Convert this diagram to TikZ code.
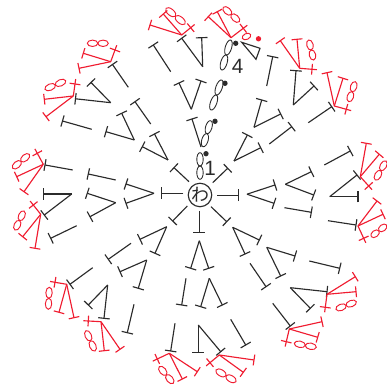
\documentclass[tikz,border=0pt]{standalone}
\usepackage{fontspec}
\setmainfont{Liberation Sans}
\newfontfamily\jpfont{Noto Sans CJK JP}
\definecolor{inkk}{HTML}{2B2B2B}
\definecolor{inkr}{HTML}{F01C30}
\tikzset{
  blkline/.style={draw=inkk,line width=.85pt},
  redline/.style={draw=inkr,line width=.85pt},
  blkloop/.style={draw=inkk,line width=.65pt},
  redloop/.style={draw=inkr,line width=.7pt},
  numlabel/.style={text=inkk,font=\fontsize{15.5}{17}\selectfont,inner sep=0pt},
}
% a stem from (x1,y1) to (x2,y2), crossbar at its end; y is measured downward in pixels
\newcommand\stitch[6]{%
  \pgfmathsetmacro\sdx{#4-#2}%
  \pgfmathsetmacro\sdy{#5-#3}%
  \pgfmathsetmacro\slen{veclen(\sdx,\sdy)}%
  \pgfmathsetmacro\spx{-\sdy/\slen*#6}%
  \pgfmathsetmacro\spy{\sdx/\slen*#6}%
  \draw[#1] (#2,385-#3) -- (#4,385-#5);%
  \draw[#1] (#4+\spx,385-#5-\spy) -- (#4-\spx,385-#5+\spy);%
}
\newcommand\blkT[4]{\stitch{blkline}{#1}{#2}{#3}{#4}{5.8}}
\newcommand\redT[4]{\stitch{redline}{#1}{#2}{#3}{#4}{5.4}}
\newcommand\blkV[6]{\blkT{#1}{#2}{#3}{#4}\blkT{#1}{#2}{#5}{#6}}
\newcommand\redV[6]{\redT{#1}{#2}{#3}{#4}\redT{#1}{#2}{#5}{#6}}
% slip stitch: stem from the apex through a crossing bar
\newcommand\redP[4]{%
  \pgfmathsetmacro\sdx{#3-#1}%
  \pgfmathsetmacro\sdy{#4-#2}%
  \pgfmathsetmacro\slen{veclen(\sdx,\sdy)}%
  \pgfmathsetmacro\spx{-\sdy/\slen*5.4}%
  \pgfmathsetmacro\spy{\sdx/\slen*5.4}%
  \pgfmathsetmacro\sex{#3+\sdx/\slen*5}%
  \pgfmathsetmacro\sey{#4+\sdy/\slen*5}%
  \draw[redline] (#1,385-#2) -- (\sex,385-\sey);%
  \draw[redline] (#3+\spx,385-#4-\spy) -- (#3-\spx,385-#4+\spy);%
}
% chain of two loops from (x1,y1) to (x2,y2)
\newcommand\eight[5]{%
  \pgfmathsetmacro\edx{#4-#2}%
  \pgfmathsetmacro\edy{#3-#5}%
  \pgfmathsetmacro\elen{veclen(\edx,\edy)}%
  \pgfmathsetmacro\eang{atan2(\edy,\edx)}%
  \pgfmathsetmacro\erad{\elen/4*.75}%
  \draw[#1,rotate around={\eang:(#2+.25*\edx,385-#3+.25*\edy)}] (#2+.25*\edx,385-#3+.25*\edy) circle [x radius=\erad pt,y radius=2.4pt];%
  \draw[#1,rotate around={\eang:(#2+.75*\edx,385-#3+.75*\edy)}] (#2+.75*\edx,385-#3+.75*\edy) circle [x radius=\erad pt,y radius=2.4pt];%
}
\newcommand\blkE[4]{\eight{blkloop}{#1}{#2}{#3}{#4}}
\newcommand\redE[4]{\eight{redloop}{#1}{#2}{#3}{#4}}
\begin{document}
\begin{tikzpicture}[x=.75pt,y=.75pt]
\useasboundingbox[fill=white] (0,0) rectangle (387,385);
% centre ring
\node[circle,draw=inkk,line width=.85pt,minimum size=17.6pt,inner sep=0pt,text=inkk,font=\jpfont\fontsize{13.5}{14}\selectfont] (ring) at (200,190) {わ};
% round 1
\blkT{189}{181.7}{174}{167.7}
\blkT{212.7}{182.7}{227.7}{168.3}
\blkT{183.3}{193.3}{161.7}{193.3}
\blkT{217.3}{195.3}{238.7}{195.3}
\blkT{187.3}{206}{172.7}{221}
\blkT{199.3}{211}{199.3}{232.7}
\blkT{211}{206.7}{226.7}{221.7}
\blkE{200}{179.3}{200}{152.7}
\fill[inkk] (206,385-153.7) circle (2pt);
\node[numlabel] (n1) at (210,385-168) {1};
% round 2
\blkV{168}{160}{154.5}{134}{142.3}{146.7}
\blkV{154}{193.3}{126}{184}{126}{203.3}
\blkV{166.7}{226.7}{140}{239.3}{155}{253.3}
\blkV{199.3}{240.7}{190.7}{268.3}{208.7}{268.3}
\blkV{232.7}{227.3}{259.3}{240}{245}{254}
\blkV{247}{194.2}{275}{185}{274}{203.3}
\blkV{234}{161}{247.3}{135}{260.7}{147.7}
\blkT{201}{147}{192}{119}
\blkE{203}{146.7}{210.7}{120.7}
\fill[inkk] (215,385-121.3) circle (2pt);
% round 3
\blkV{191.3}{109.3}{179}{83}{201}{81}
\blkE{211}{110}{221.7}{80}
\fill[inkk] (225,385-83.3) circle (2pt);
\blkT{150.7}{124}{135}{101.7}
\blkV{134.3}{140}{121.7}{113.3}{106}{131.7}
\blkT{91.7}{129.3}{62.5}{121}
\blkT{115.7}{180}{88.3}{174}
\blkV{115.7}{202.7}{87.3}{193.3}{90}{216.7}
\blkT{131}{243.3}{108.3}{259.3}
\blkV{146.7}{260}{120}{271.7}{138.3}{288.3}
\blkT{186}{278.3}{181.7}{305}
\blkV{209.3}{278.3}{200.7}{306.7}{222.3}{305}
\blkT{250}{263.3}{266}{286.7}
\blkV{266.7}{247.3}{295}{256}{280.7}{276}
\blkT{284.5}{207.7}{311.3}{212.3}
\blkV{285.3}{184.3}{311.3}{171.7}{313.7}{195}
\blkT{269.3}{144}{291.7}{126.7}
\blkV{254}{127.3}{261.7}{100}{280.7}{114}
% round 4
\blkT{128.3}{87.3}{112.5}{64.5}
\blkV{110.7}{102.7}{91}{82.5}{75.5}{98.8}
\blkT{72.7}{170}{45}{165}
\blkV{71.7}{194}{43.3}{194}{44.3}{215}
\blkT{76.7}{225.7}{50.7}{238.3}
\blkT{92.7}{267.7}{70}{284.3}
\blkV{107.7}{285}{88.3}{305}{104}{318.3}
\blkT{134}{304.3}{127.3}{332.7}
\blkT{175}{323.3}{170.7}{351}
\blkV{198.3}{325}{198.3}{352.7}{220.7}{351.7}
\blkT{230.7}{319.3}{245.7}{345}
\blkT{272.7}{303.3}{290.3}{326}
\blkV{290.3}{287.7}{327}{291.7}{310.3}{308.3}
\blkT{309.3}{261}{339.7}{268.3}
\blkT{328}{220.7}{356}{225}
\blkV{329.7}{196.7}{357}{175}{358}{196.7}
\blkT{324.3}{165}{350.3}{151}
\blkT{308.3}{122.7}{331.7}{106.7}
\blkV{293.3}{105}{296}{70.7}{314}{86}
\blkT{266.7}{86}{272.7}{56.7}
\blkV{202.7}{66.7}{181.7}{38.3}{201.7}{37.7}
\blkT{170.7}{71.7}{153.3}{45}
\blkE{221.7}{70}{230.7}{40}
\fill[inkk] (235.7,385-43.3) circle (2pt);
\node[numlabel] (n4) at (237.7,385-66.7) {4};
\draw[blkline] (241.7,385-42.3) -- (260,385-48.3) -- (256,385-59.3) -- cycle;
\fill[inkr] (258.5,385-38.8) circle (2pt);
% red edging
\redV{181.7}{35}{150}{25}{163.3}{14}
\redP{181.7}{35}{190.7}{27.7}
\redE{166}{8.3}{185}{24}
\redV{231}{37.7}{208.3}{16.7}{217.3}{11.7}
\redP{231}{37.7}{243.3}{28.3}
\redE{223.3}{7.3}{239.3}{21.7}
\draw[redloop,rotate around={25:(246.5,385-36.5)}] (246.5,385-36.5) circle [x radius=3.4pt,y radius=2.2pt];
\redV{299.7}{68.3}{280.3}{40.7}{297}{39.3}
\redP{299.7}{68.3}{312}{69.3}
\redE{308.7}{40}{313.7}{60}
\redV{334.3}{106}{327}{72.7}{343}{78.3}
\redP{334.3}{106}{346.3}{109.3}
\redE{348.7}{101.7}{355.3}{81.7}
\redV{360.3}{176.7}{366.3}{143.3}{379.3}{154.3}
\redP{360.3}{176.7}{368.7}{186}
\redE{375.3}{180}{386}{161}
\redV{358}{226}{377}{201}{383}{214.3}
\redP{358}{226}{363.7}{238.3}
\redE{371.3}{236.7}{386.5}{225}
\redV{327}{294.3}{355.3}{276.7}{356}{291.7}
\redP{327}{294.3}{325.3}{307.3}
\redE{336}{309.3}{356.3}{301.7}
\redV{289.3}{329}{322}{321.7}{317.7}{337.3}
\redP{289.3}{329}{286.3}{341.7}
\redE{294.3}{343.3}{316.3}{347.3}
\redV{219.3}{355}{254}{360}{243.3}{372.3}
\redP{219.3}{355}{210}{362.7}
\redE{216}{370}{236}{381.7}
\redV{169.3}{353.3}{197.3}{371.7}{182.3}{379}
\redP{169.3}{353.3}{157.3}{359}
\redE{159.3}{366.7}{173.3}{383.3}
\redV{101}{321.7}{120}{349.3}{104.3}{350.7}
\redP{101}{321.7}{88.3}{321}
\redE{86}{330.7}{95}{351}
\redV{66.7}{284.3}{74}{317.7}{59}{312.3}
\redP{66.7}{284.3}{55}{282.3}
\redE{49.3}{287.3}{48.3}{309.3}
\redV{40.7}{214.3}{35}{248.3}{22.7}{236.7}
\redP{40.7}{214.3}{33.3}{205}
\redE{24}{211}{15}{230}
\redV{43.3}{164.3}{24}{191.7}{16.7}{176.7}
\redP{43.3}{164.3}{37.3}{153.3}
\redE{29.3}{154.3}{12.7}{168.3}
\redV{73.3}{96}{46}{116.7}{44.3}{99.3}
\redP{73.3}{96}{75}{84}
\redE{45}{89.3}{65.7}{80.7}
\redV{110.7}{61.7}{79}{68.3}{83.3}{53.3}
\redP{110.7}{61.7}{115}{50}
\redE{87.3}{43.3}{108.3}{43.3}
\end{tikzpicture}
\end{document}
